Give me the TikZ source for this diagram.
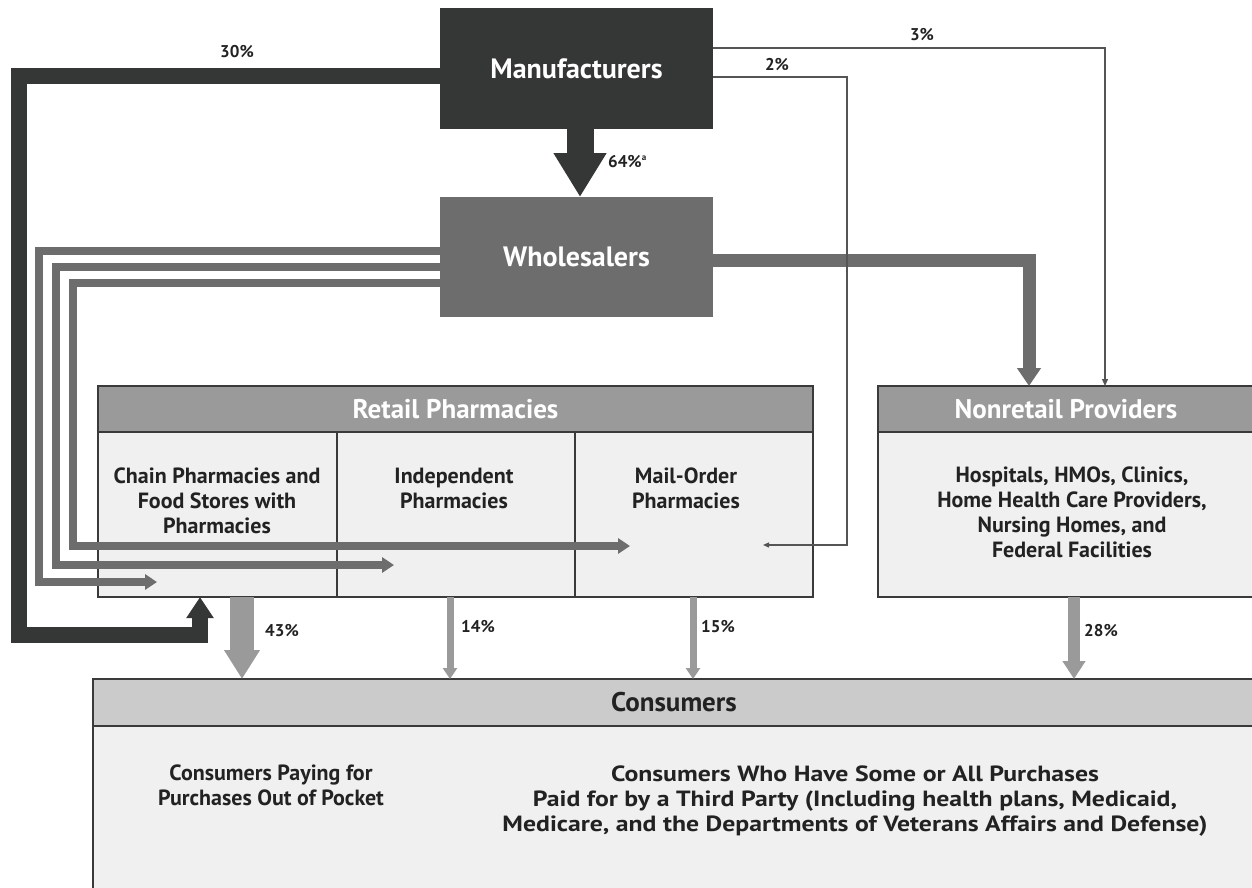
\documentclass[tikz,border=0pt]{standalone}
\usepackage{fontspec}
\setmainfont{PT Sans}
\usetikzlibrary{arrows.meta}
\definecolor{dk}{HTML}{353636}
\definecolor{wh}{HTML}{6D6D6D}
\definecolor{hd}{HTML}{9A9A9A}
\definecolor{bd}{HTML}{EFF0EF}
\definecolor{ch}{HTML}{CBCBCB}
\definecolor{bl}{HTML}{3A3A3A}
\definecolor{tx}{HTML}{222222}
\definecolor{tl}{HTML}{555555}
\tikzset{
  box/.style={draw=bl, line width=1.2pt, inner sep=0pt, outer sep=0pt, anchor=north west},
  solidbox/.style={inner sep=0pt, outer sep=0pt, anchor=north west, text=white, font=\bfseries\fontsize{28}{32}\selectfont},
  hdr/.style={box, fill=hd, text=white, font=\bfseries\fontsize{27}{30}\selectfont},
  bodybox/.style={box, fill=bd},
  btext/.style={align=center, text=tx, font=\bfseries\fontsize{22}{25}\selectfont, inner sep=0pt, anchor=north},
  pct/.style={text=tx, font=\bfseries\fontsize{17}{20}\selectfont, inner sep=0pt},
  thinflow/.style={draw=tl, line width=1.2pt},
  wline/.style={draw=wh, line width=7.5pt, line join=miter, -{Triangle[length=12pt,width=15pt]}},
}
\begin{document}
\begin{tikzpicture}[x=1pt,y=-1pt]
\useasboundingbox (0,0) rectangle (1252,888);

% boxes
\node[solidbox, fill=dk, minimum width=273pt, minimum height=121pt] (man) at (440,8) {Manufacturers};
\node[solidbox, fill=wh, minimum width=273pt, minimum height=120pt] (whl) at (440,197) {Wholesalers};

\node[hdr, minimum width=715pt, minimum height=46pt] (reth) at (98,386) {Retail Pharmacies};
\node[bodybox, minimum width=239pt, minimum height=165pt] (chain) at (98,432) {};
\node[bodybox, minimum width=238pt, minimum height=165pt] (indep) at (337,432) {};
\node[bodybox, minimum width=238pt, minimum height=165pt] (mail) at (575,432) {};

\node[hdr, minimum width=376pt, minimum height=46pt] (nrh) at (878,386) {Nonretail Providers};
\node[bodybox, minimum width=376pt, minimum height=165pt] (nrb) at (878,432) {};

\node[box, fill=ch, minimum width=1162pt, minimum height=47pt, text=tx, font=\bfseries\fontsize{27}{30}\selectfont] (conh) at (93,679) {Consumers};
\node[bodybox, minimum width=1162pt, minimum height=165pt] (conb) at (93,726) {};

% texts in boxes
\node[btext] (chaint) at (217,468) {Chain Pharmacies and\\Food Stores with\\Pharmacies};
\node[btext] (indept) at (454,468) {Independent\\Pharmacies};
\node[btext] (mailt) at (686,468) {Mail-Order\\Pharmacies};
\node[btext, anchor=center] (nrt) at (1072,512) {Hospitals, HMOs, Clinics,\\Home Health Care Providers,\\Nursing Homes, and\\Federal Facilities};
\node[btext] (cont1) at (271,765) {Consumers Paying for\\Purchases Out of Pocket};
\node[btext] (cont2) at (855,764) {\scalebox{1.17}[1]{\begin{tabular}{@{}c@{}}Consumers Who Have Some or All Purchases\\Paid for by a Third Party (Including health plans, Medicaid,\\Medicare, and the Departments of Veterans Affairs and Defense)\end{tabular}}};

% manufacturers -> wholesalers
\draw[dk, line width=27pt, -{Triangle[length=44pt,width=50pt]}] (man.south -| 580,0) -- (whl.north -| 580,0);

% 30% direct to chain
\draw[dk, line width=16pt, line join=miter, -{Triangle[length=21pt,width=26pt]}]
  (man.west |- 0,76.5) -- (18.5,76.5) -- (18.5,635) -- (200,635) -- (chain.south -| 200,0);

% wholesaler to retail
\draw[wline] (whl.west |- 0,251) -- (39,251) -- (39,582) -- (157,582);
\draw[wline] (whl.west |- 0,267) -- (56,267) -- (56,565) -- (394,565);
\draw[wline] (whl.west |- 0,283) -- (73,283) -- (73,546) -- (630,546);

% wholesaler to nonretail
\draw[wh, line width=13pt, line join=miter, -{Triangle[length=18pt,width=23pt]}]
  (whl.east |- 0,260.5) -- (1029,260.5) -- (nrh.north -| 1029,0);

% 3% and 2%
\coordinate (mo2) at (763,545);
\draw[thinflow, -{Triangle[length=7pt,width=6pt]}] (man.east |- 0,48) -- (1105,48) -- (nrh.north -| 1105,0);
\draw[thinflow, -{Triangle[length=6pt,width=5pt]}] (man.east |- 0,77) -- (847,77) -- (847,545) -- (mo2);

% to consumers
\draw[hd, line width=24pt, -{Triangle[length=29pt,width=34pt]}] (chain.south -| 242,0) -- (conh.north -| 242,0);
\draw[hd, line width=7pt, -{Triangle[length=11pt,width=14pt]}] (indep.south -| 450,0) -- (conh.north -| 450,0);
\draw[hd, line width=7pt, -{Triangle[length=11pt,width=14pt]}] (mail.south -| 693,0) -- (conh.north -| 693,0);
\draw[hd, line width=12pt, -{Triangle[length=18pt,width=22pt]}] (nrb.south -| 1074,0) -- (conh.north -| 1074,0);

% labels
\node[pct] (l30) at (237,52) {30\%};
\node[pct, anchor=west] (l64) at (608,162) {64\%\raisebox{7pt}{\fontsize{9}{9}\selectfont a}};
\node[pct] (l2) at (777,65) {2\%};
\node[pct] (l3) at (922,35) {3\%};
\node[pct] (l43) at (282,631) {43\%};
\node[pct] (l14) at (478,627) {14\%};
\node[pct] (l15) at (718,627) {15\%};
\node[pct] (l28) at (1101,631) {28\%};
\end{tikzpicture}
\end{document}
